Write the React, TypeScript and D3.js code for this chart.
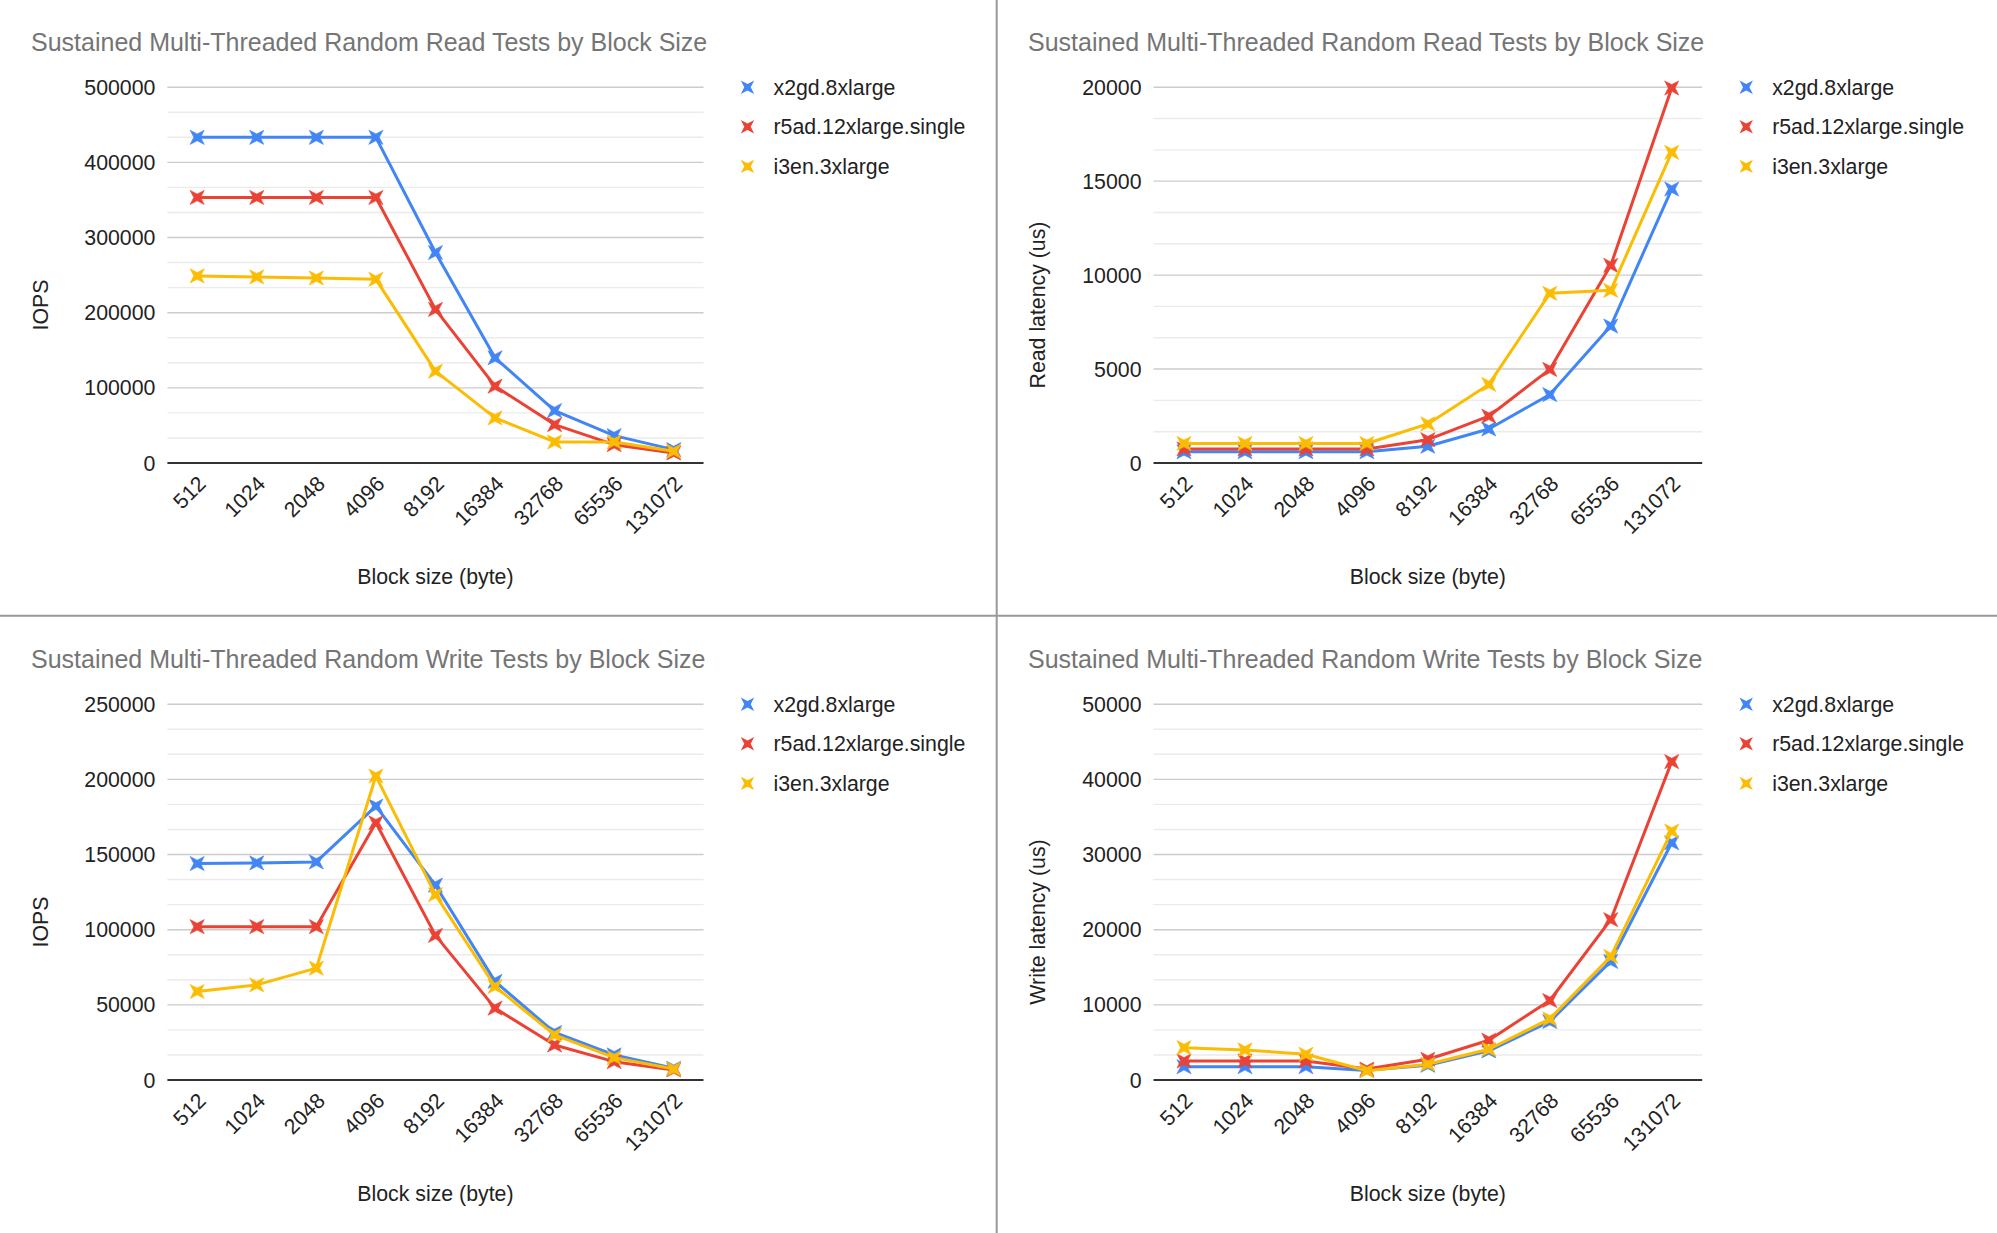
import React from "react";
import * as d3 from "d3";

const blockSizes = ["512", "1024", "2048", "4096", "8192", "16384", "32768", "65536", "131072"];
const seriesNames = ["x2gd.8xlarge", "r5ad.12xlarge.single", "i3en.3xlarge"];
const seriesColors = ["#4285F4", "#EA4335", "#FBBC04"];

const readIopsX2gd = [433300, 433300, 433300, 433300, 280000, 140000, 69800, 36400, 17800];
const readIopsR5ad = [353300, 353300, 353300, 353300, 204400, 102200, 51100, 24400, 13300];
const readIopsI3en = [248900, 247600, 246200, 244400, 122200, 60000, 28000, 28000, 15600];

const readLatX2gd = [600, 600, 600, 600, 890, 1810, 3640, 7290, 14580];
const readLatR5ad = [750, 750, 750, 750, 1240, 2490, 4980, 10520, 19960];
const readLatI3en = [1040, 1040, 1040, 1040, 2080, 4180, 9030, 9190, 16530];

const writeIopsX2gd = [144000, 144400, 145100, 182200, 129600, 65600, 31600, 16700, 7800];
const writeIopsR5ad = [102000, 102000, 102000, 171100, 96200, 47800, 23300, 12200, 6700];
const writeIopsI3en = [58900, 63300, 74400, 202200, 123300, 62200, 30000, 14900, 7300];

const writeLatX2gd = [1770, 1770, 1770, 1280, 1960, 3870, 7780, 15780, 31560];
const writeLatR5ad = [2530, 2530, 2530, 1450, 2760, 5290, 10580, 21330, 42360];
const writeLatI3en = [4300, 4000, 3420, 1230, 2100, 4090, 8130, 16440, 33110];

const readIopsTicks = [0, 100000, 200000, 300000, 400000, 500000];
const readLatTicks = [0, 5000, 10000, 15000, 20000];
const writeIopsTicks = [0, 50000, 100000, 150000, 200000, 250000];
const writeLatTicks = [0, 10000, 20000, 30000, 40000, 50000];

const readTitle = "Sustained Multi-Threaded Random Read Tests by Block Size";
const writeTitle = "Sustained Multi-Threaded Random Write Tests by Block Size";
const xTitle = "Block size (byte)";

const FONT = "'Liberation Sans', Arial, Helvetica, sans-serif";
const FS = 21.3;

function starPath(R: number, r: number): string {
  const pts: [number, number][] = [];
  for (let i = 0; i < 8; i++) {
    const ang = (Math.PI / 4) * i + Math.PI / 4;
    const rad = i % 2 === 0 ? R : r;
    pts.push([Math.cos(ang) * rad, Math.sin(ang) * rad]);
  }
  return "M" + pts.map((p) => p[0].toFixed(2) + "," + p[1].toFixed(2)).join("L") + "Z";
}
const STAR = starPath(10, 3.4);

type PanelProps = {
  ox: number;
  oy: number;
  title: string;
  yTitle: string;
  ticks: number[];
  series: number[][];
  left: number;
  right: number;
};

function Panel({ ox, oy, title, yTitle, ticks, series, left, right }: PanelProps) {
  const top = 87.2;
  const bottom = 463;
  const maxV = ticks[ticks.length - 1];
  const y = d3.scaleLinear().domain([0, maxV]).range([bottom, top]);
  const x = d3.scaleBand<string>().domain(blockSizes).range([left, right]);
  const cx = (c: string) => (x(c) as number) + x.bandwidth() / 2;
  const step = ticks[1] - ticks[0];
  const minor: number[] = [];
  for (let i = 0; i < ticks.length - 1; i++) {
    minor.push(ticks[i] + step / 3, ticks[i] + (2 * step) / 3);
  }
  const line = d3
    .line<number>()
    .x((_, i) => cx(blockSizes[i]))
    .y((d) => y(d));
  return (
    <g transform={`translate(${ox},${oy})`} fontFamily={FONT}>
      <text x={31} y={51} fontSize={25} fill="#757575">
        {title}
      </text>
      {minor.map((v) => (
        <line key={"m" + v} x1={left} x2={right} y1={y(v)} y2={y(v)} stroke="#ebebeb" strokeWidth={1.4} />
      ))}
      {ticks.map((v) => (
        <line
          key={"g" + v}
          x1={left}
          x2={right}
          y1={y(v)}
          y2={y(v)}
          stroke={v === 0 ? "#333333" : "#cccccc"}
          strokeWidth={v === 0 ? 1.8 : 1.4}
        />
      ))}
      {ticks.map((v) => (
        <text key={"t" + v} x={left - 12} y={y(v) + 7.6} fontSize={FS} textAnchor="end" fill="#222222">
          {String(v)}
        </text>
      ))}
      {blockSizes.map((c) => {
        const ax = cx(c) + 10;
        const ay = bottom + 22;
        return (
          <text
            key={"x" + c}
            x={ax}
            y={ay}
            fontSize={FS}
            textAnchor="end"
            fill="#222222"
            transform={`rotate(-45,${ax},${ay})`}
          >
            {c}
          </text>
        );
      })}
      <text x={(left + right) / 2} y={583.5} fontSize={FS} textAnchor="middle" fill="#222222">
        {xTitle}
      </text>
      <text
        x={0}
        y={0}
        fontSize={FS}
        textAnchor="middle"
        fill="#222222"
        transform={`translate(47.5,305) rotate(-90)`}
      >
        {yTitle}
      </text>
      {series.map((s, si) => (
        <g key={"s" + si}>
          <path d={line(s) as string} fill="none" stroke={seriesColors[si]} strokeWidth={3} strokeLinejoin="round" />
          {s.map((v, i) => (
            <path
              key={i}
              d={STAR}
              transform={`translate(${cx(blockSizes[i])},${y(v)})`}
              fill={seriesColors[si]}
              stroke={seriesColors[si]}
              strokeWidth={0.6}
              strokeLinejoin="miter"
            />
          ))}
        </g>
      ))}
      {seriesNames.map((n, i) => (
        <g key={"l" + n} transform={`translate(0,${87.2 + i * 39.6})`}>
          <path d={STAR} transform={`translate(${right + 44},0) scale(0.95)`} fill={seriesColors[i]} />
          <text x={right + 70} y={7.6} fontSize={FS} fill="#222222">
            {n}
          </text>
        </g>
      ))}
    </g>
  );
}

export default function App() {
  return (
    <svg
      width={1997}
      height={1233}
      style={{ position: "absolute", left: 0, top: 0, background: "#ffffff" }}
    >
      <rect x={0} y={0} width={1997} height={1233} fill="#ffffff" />
      <Panel
        ox={0}
        oy={0}
        title={readTitle}
        yTitle="IOPS"
        ticks={readIopsTicks}
        series={[readIopsX2gd, readIopsR5ad, readIopsI3en]}
        left={167.4}
        right={703.5}
      />
      <Panel
        ox={997}
        oy={0}
        title={readTitle}
        yTitle="Read latency (us)"
        ticks={readLatTicks}
        series={[readLatX2gd, readLatR5ad, readLatI3en]}
        left={156.5}
        right={705.2}
      />
      <Panel
        ox={0}
        oy={617}
        title={writeTitle}
        yTitle="IOPS"
        ticks={writeIopsTicks}
        series={[writeIopsX2gd, writeIopsR5ad, writeIopsI3en]}
        left={167.4}
        right={703.5}
      />
      <Panel
        ox={997}
        oy={617}
        title={writeTitle}
        yTitle="Write latency (us)"
        ticks={writeLatTicks}
        series={[writeLatX2gd, writeLatR5ad, writeLatI3en]}
        left={156.5}
        right={705.2}
      />
      <line x1={996.7} x2={996.7} y1={0} y2={1233} stroke="#999999" strokeWidth={2} />
      <line x1={0} x2={1997} y1={615.7} y2={615.7} stroke="#999999" strokeWidth={2} />
    </svg>
  );
}
